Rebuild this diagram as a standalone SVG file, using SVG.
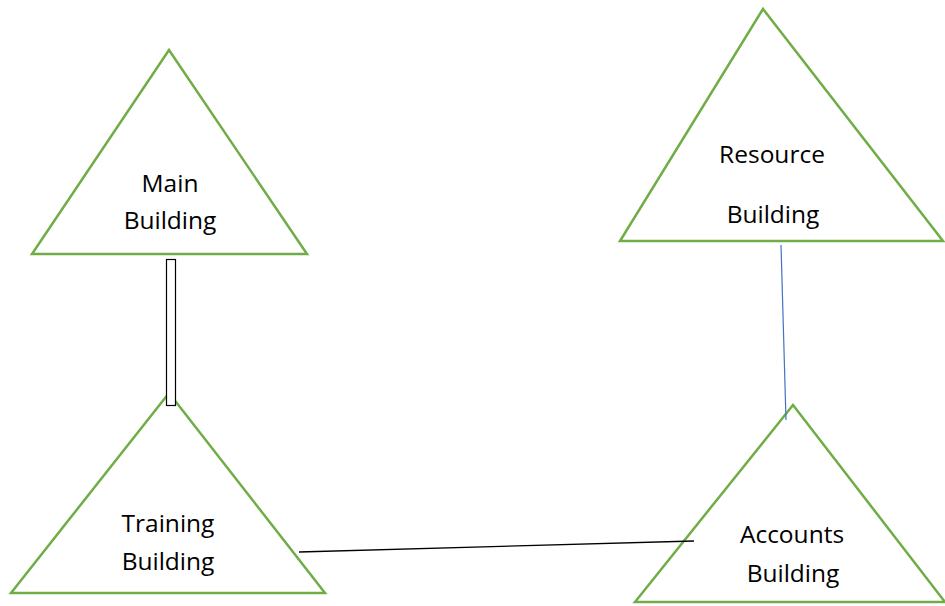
<svg xmlns="http://www.w3.org/2000/svg" width="945" height="606" viewBox="0 0 945 606">
<style>
.tri{fill:#fff;stroke:#70AD47;stroke-width:2.5;stroke-linejoin:miter}
.lbl{font-family:"Open Sans","Noto Sans",sans-serif;font-size:24.5px;fill:#000;text-anchor:middle}
</style>
<rect width="945" height="606" fill="#fff"/>
<g id="main-building">
<polygon class="tri" points="169,50 32,254 307,254"/>
<text class="lbl" x="170" y="192">Main</text>
<text class="lbl" x="170" y="229">Building</text>
</g>
<g id="resource-building">
<polygon class="tri" points="763,9 620,241 943,241"/>
<text class="lbl" x="772" y="163">Resource</text>
<text class="lbl" x="773" y="223">Building</text>
</g>
<g id="training-building">
<polygon class="tri" points="169,393 11,593 325,593"/>
<text class="lbl" x="168" y="532">Training</text>
<text class="lbl" x="168" y="570">Building</text>
</g>
<g id="accounts-building">
<polygon class="tri" points="793,405 635,602 945,602"/>
<text class="lbl" x="792" y="543">Accounts</text>
<text class="lbl" x="793" y="582">Building</text>
</g>
<g id="connectors">
<rect x="166.5" y="259.5" width="9" height="146" fill="#fff" stroke="#000" stroke-width="1.2"/>
<line x1="299" y1="552" x2="694" y2="541" stroke="#000" stroke-width="1.3"/>
<line x1="781" y1="245" x2="786" y2="420" stroke="#4472C4" stroke-width="1.2"/>
</g>
</svg>
